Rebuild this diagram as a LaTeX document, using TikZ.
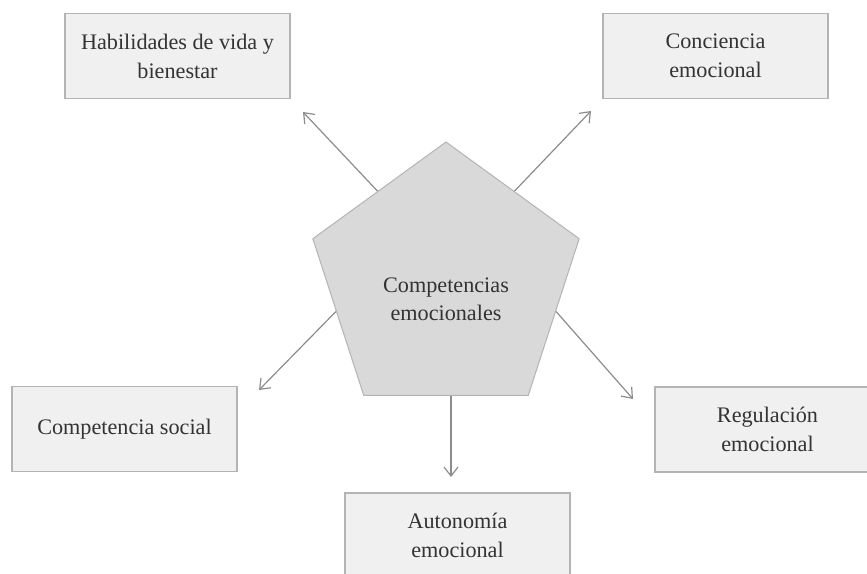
\documentclass[tikz,border=0pt]{standalone}
\usepackage{fontspec}
\setmainfont{Liberation Serif}
\usetikzlibrary{shapes.geometric,arrows.meta}
\definecolor{boxfill}{HTML}{F0F0F0}
\definecolor{boxline}{HTML}{B4B4B4}
\definecolor{pentfill}{HTML}{D9D9D9}
\definecolor{arrowgray}{HTML}{8C8C8C}
\tikzset{
  compbox/.style={draw=boxline, line width=1.2pt, fill=boxfill, rectangle,
    minimum width=225pt, minimum height=85pt, align=center, text=black!80,
    font=\fontsize{22.2}{29}\selectfont},
  outarrow/.style={draw=arrowgray, line width=1.2pt,
    -{Straight Barb[length=9pt,width=14pt]}}
}
\begin{document}
\begin{tikzpicture}[x=1pt,y=1pt]
\useasboundingbox (0,0) rectangle (867,573);

\node(Pent)[draw=boxline, line width=1pt, fill=pentfill, regular polygon, regular polygon sides=5,
  minimum size=280pt, inner sep=0pt] at (446,291) {};
\node(Core)[align=center, text=black!80, font=\fontsize{22.2}{28}\selectfont] at (446,274) {Competencias\\emocionales};

\node(Hab)[compbox] at (177.5,517) {Habilidades de vida y\\bienestar};
\node(Conc)[compbox] at (715.5,517) {Conciencia\\emocional};
\node(Soc)[compbox] at (124.5,144) {Competencia social};
\node(Reg)[compbox] at (767.5,143.5) {Regulación\\emocional};
\node(Aut)[compbox] at (457.5,37.5) {Autonomía\\emocional};

\coordinate(HabTip) at (303,461);
\coordinate(ConcTip) at (591,462);
\coordinate(SocTip) at (259,183);
\coordinate(RegTip) at (633,174);
\coordinate(AutTip) at (451,96);

\draw[outarrow] (Pent.127) -- (HabTip);
\draw[outarrow] (Pent.53) -- (ConcTip);
\draw[outarrow] (Pent.195) -- (SocTip);
\draw[outarrow] (Pent.345) -- (RegTip);
\draw[outarrow] ([xshift=5pt]Pent.south) -- (AutTip);
\end{tikzpicture}
\end{document}
